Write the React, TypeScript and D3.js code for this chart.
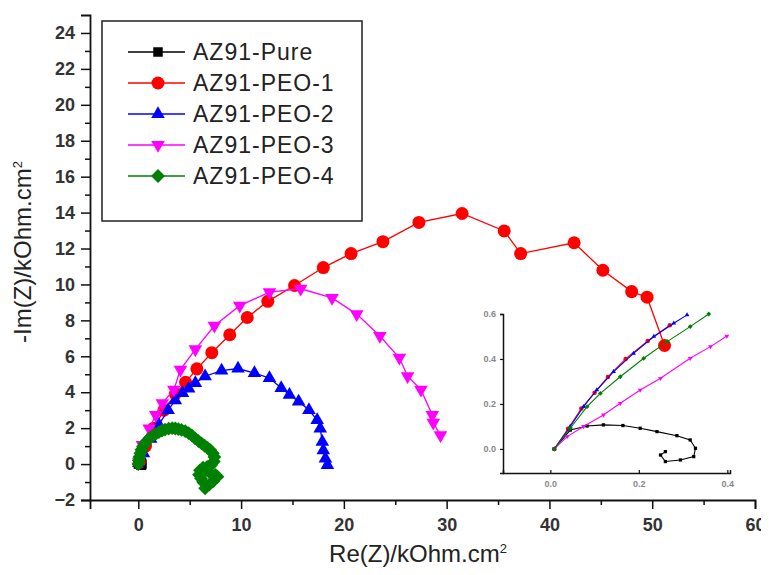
import React, { useEffect, useRef } from 'react';
import * as d3 from 'd3';

// series names, colours and marker shapes
const seriesNames = ['AZ91-Pure', 'AZ91-PEO-1', 'AZ91-PEO-2', 'AZ91-PEO-3', 'AZ91-PEO-4'];
const seriesColors = ['#000000', '#ff0000', '#0000ff', '#ff00ff', '#008000'];
const seriesShapes = ['square', 'circle', 'triangle', 'down', 'diamond'];

// main plot, Re(Z) / -Im(Z) in kOhm.cm2
const pureMain = [[0.009, 0], [0.045, 0.084], [0.083, 0.102], [0.12, 0.107], [0.164, 0.104], [0.203, 0.092],
  [0.241, 0.077], [0.286, 0.059], [0.316, 0.04], [0.328, 0.003], [0.324, -0.034], [0.294, -0.049],
  [0.26, -0.056], [0.249, -0.027], [0.26, -0.012]];
const peo1Main = [[0.1, 0.1], [0.7, 1.0], [1.5, 2.0], [2.5, 3.0], [3.6, 3.9], [4.6, 4.55], [5.7, 5.3],
  [7.15, 6.2], [8.9, 7.2], [10.6, 8.16], [12.6, 9.06], [15.2, 9.94], [18.0, 10.94], [20.7, 11.72],
  [23.8, 12.38], [27.3, 13.45], [31.5, 13.95], [35.6, 12.98], [37.2, 11.72], [42.4, 12.32],
  [45.2, 10.79], [48.0, 9.6], [49.5, 9.29], [51.2, 6.6]];
const peo2Main = [[0.05, 0.05], [0.5, 0.6], [1.2, 1.4], [2.0, 2.2], [2.9, 3.0], [3.6, 3.55], [4.3, 3.95],
  [4.9, 4.2], [5.55, 4.51], [6.5, 4.89], [8.1, 5.2], [9.7, 5.32], [11.3, 5.07], [12.76, 4.79],
  [13.9, 4.23], [14.7, 3.86], [15.6, 3.48], [16.6, 3.01], [17.4, 2.45], [17.7, 1.98], [17.9, 1.24],
  [18.0, 0.77], [18.2, 0.3], [18.4, -0.05]];
const peo3Main = [[0.05, 0.1], [0.4, 1.07], [1.06, 1.98], [1.7, 2.73], [2.34, 3.39], [3.46, 4.14],
  [4.1, 5.26], [5.55, 6.39], [7.4, 7.7], [9.87, 8.82], [12.76, 9.57], [15.8, 9.76], [18.85, 9.25],
  [21.25, 8.35], [23.5, 7.13], [25.4, 5.92], [26.2, 4.89], [27.5, 4.14], [28.6, 2.73], [28.7, 2.3],
  [29.4, 1.61]];
const peo4Main = [[0, 0], [0.05, 0.2], [0.1, 0.4], [0.2, 0.6], [0.3, 0.8], [0.45, 0.98], [0.65, 1.15],
  [0.85, 1.3], [1.1, 1.45], [1.4, 1.58], [1.7, 1.68], [2.0, 1.78], [2.3, 1.86], [2.6, 1.92], [2.95, 1.97],
  [3.3, 2.0], [3.6, 1.98], [3.9, 1.95], [4.2, 1.9], [4.56, 1.84], [4.9, 1.72], [5.2, 1.6], [5.5, 1.45],
  [5.85, 1.28], [6.15, 1.15], [6.45, 1.02], [6.75, 0.9], [7.0, 0.78], [7.25, 0.6], [7.4, 0.4],
  [7.35, 0.15], [7.1, -0.05], [6.7, -0.15], [6.3, -0.2], [6.0, -0.35], [5.9, -0.6], [6.3, -0.5],
  [6.9, -0.45], [7.5, -0.6], [7.7, -0.7], [7.3, -0.95], [6.9, -1.15], [6.5, -1.35], [6.3, -1.0],
  [6.1, -0.8]];

// inset, high frequency region
const pureInset = pureMain;
const peo1Inset = [[0.009, 0], [0.04, 0.09], [0.07, 0.18], [0.1, 0.25], [0.13, 0.32], [0.17, 0.4],
  [0.22, 0.48], [0.27, 0.55]];
const peo2Inset = [[0.009, 0], [0.045, 0.1], [0.075, 0.188], [0.105, 0.262], [0.143, 0.344], [0.188, 0.425],
  [0.234, 0.5], [0.279, 0.559], [0.309, 0.596]];
const peo3Inset = [[0.009, 0], [0.038, 0.055], [0.075, 0.1], [0.12, 0.151], [0.158, 0.203], [0.203, 0.262],
  [0.249, 0.314], [0.316, 0.403], [0.362, 0.455], [0.399, 0.502]];
const peo4Inset = [[0.009, 0], [0.045, 0.092], [0.083, 0.188], [0.113, 0.247], [0.158, 0.321], [0.211, 0.403],
  [0.264, 0.477], [0.316, 0.544], [0.358, 0.6]];

const mainData = [pureMain, peo1Main, peo2Main, peo3Main, peo4Main];
const insetData = [pureInset, peo1Inset, peo2Inset, peo3Inset, peo4Inset];

const xTicks = [0, 10, 20, 30, 40, 50, 60];
const yTicks = [-2, 0, 2, 4, 6, 8, 10, 12, 14, 16, 18, 20, 22, 24];
const insetXTicks = [0, 0.2, 0.4];
const insetYTicks = [0, 0.2, 0.4, 0.6];

const font = 'Arial, "Liberation Sans", sans-serif';

const symbolPath = (shape, scale) => {
  if (shape === 'circle') return d3.symbol(d3.symbolCircle, 133 * scale)();
  if (shape === 'square') return d3.symbol(d3.symbolSquare, 90 * scale)();
  if (shape === 'diamond') return d3.symbol(d3.symbolSquare, 95 * scale)();
  return d3.symbol(d3.symbolTriangle, 80 * scale)();
};
const symbolRotate = shape => (shape === 'down' ? 180 : shape === 'diamond' ? 45 : 0);

function Chart() {
  const ref = useRef(null);

  useEffect(() => {
    const svg = d3.select(ref.current);
    svg.selectAll('*').remove();

    const x = d3.scaleLinear().domain([-4.7, 60]).range([90, 755]);
    const y = d3.scaleLinear().domain([-2, 25]).range([500, 15]);

    // axes
    const minorX = d3.range(-5, 61, 5).filter(v => v % 10 !== 0 && v > -4.7);
    const minorY = d3.range(-1, 25, 2);

    const xAxis = svg.append('g').attr('transform', 'translate(0,500)')
      .call(d3.axisBottom(x).tickValues(xTicks).tickSize(9).tickPadding(6).tickFormat(d3.format('d')));
    svg.append('g').attr('transform', 'translate(0,500)')
      .call(d3.axisBottom(x).tickValues(minorX).tickSize(5).tickFormat(() => ''))
      .select('.domain').remove();
    const yAxis = svg.append('g').attr('transform', 'translate(90,0)')
      .call(d3.axisLeft(y).tickValues(yTicks).tickSize(9).tickPadding(6).tickFormat(d3.format('d')));
    svg.append('g').attr('transform', 'translate(90,0)')
      .call(d3.axisLeft(y).tickValues(minorY).tickSize(5).tickFormat(() => ''))
      .select('.domain').remove();

    svg.selectAll('.domain').attr('stroke', '#111').attr('stroke-width', 1.8);
    svg.selectAll('.tick line').attr('stroke', '#111').attr('stroke-width', 1.5);
    [xAxis, yAxis].forEach(a => a.selectAll('text')
      .attr('font-family', font)
      .attr('font-size', 18).attr('font-weight', 'bold').attr('fill', '#333'));
    xAxis.selectAll('text').attr('dy', '0.9em');

    // axis titles
    const xt = svg.append('text').attr('x', 418).attr('y', 562).attr('text-anchor', 'middle')
      .attr('font-family', font).attr('font-size', 24).attr('fill', '#222');
    xt.append('tspan').text('Re(Z)/kOhm.cm');
    xt.append('tspan').attr('dy', -9).attr('font-size', 13).text('2');

    const yt = svg.append('text').attr('transform', 'translate(31,252) rotate(-90)').attr('text-anchor', 'middle')
      .attr('font-family', font).attr('font-size', 24).attr('fill', '#222');
    yt.append('tspan').text('-Im(Z)/kOhm.cm');
    yt.append('tspan').attr('dy', -9).attr('font-size', 13).text('2');

    // main series
    const line = d3.line().x(d => x(d[0])).y(d => y(d[1]));
    mainData.forEach((data, i) => {
      const g = svg.append('g');
      g.append('path').attr('d', line(data)).attr('fill', 'none')
        .attr('stroke', seriesColors[i]).attr('stroke-width', 1.3);
      g.selectAll('path.m').data(data).enter().append('path').attr('class', 'm')
        .attr('d', symbolPath(seriesShapes[i], 1))
        .attr('transform', d => `translate(${x(d[0])},${y(d[1])}) rotate(${symbolRotate(seriesShapes[i])})`)
        .attr('fill', seriesColors[i]);
    });

    // inset
    const ix = d3.scaleLinear().domain([-0.107, 0.406]).range([503, 730]);
    const iy = d3.scaleLinear().domain([-0.107, 0.6]).range([473, 314]);
    const ixAxis = svg.append('g').attr('transform', 'translate(0,473)')
      .call(d3.axisBottom(ix).tickValues(insetXTicks).tickSize(-3).tickPadding(4).tickFormat(d3.format('.1f')));
    const iyAxis = svg.append('g').attr('transform', 'translate(503,0)')
      .call(d3.axisLeft(iy).tickValues(insetYTicks).tickSize(3).tickPadding(4).tickFormat(d3.format('.1f')));
    [ixAxis, iyAxis].forEach(a => {
      a.select('.domain').attr('stroke', '#111').attr('stroke-width', 1.5);
      a.selectAll('.tick line').attr('stroke', '#111').attr('stroke-width', 1.2);
      a.selectAll('text').attr('font-family', font)
        .attr('font-size', 9).attr('font-weight', 'bold').attr('fill', '#888');
    });
    ixAxis.selectAll('text').attr('y', 8);

    const iline = d3.line().x(d => ix(d[0])).y(d => iy(d[1]));
    insetData.forEach((data, i) => {
      const g = svg.append('g');
      g.append('path').attr('d', iline(data)).attr('fill', 'none')
        .attr('stroke', seriesColors[i]).attr('stroke-width', 1.1);
      g.selectAll('path.m').data(data).enter().append('path').attr('class', 'm')
        .attr('d', symbolPath(seriesShapes[i], 0.12))
        .attr('transform', d => `translate(${ix(d[0])},${iy(d[1])}) rotate(${symbolRotate(seriesShapes[i])})`)
        .attr('fill', seriesColors[i]);
    });

    // legend
    const legend = svg.append('g');
    legend.append('rect').attr('x', 102).attr('y', 21).attr('width', 260).attr('height', 200)
      .attr('fill', 'white').attr('stroke', '#222').attr('stroke-width', 1.5);
    seriesNames.forEach((name, i) => {
      const ly = 52 + i * 31;
      legend.append('line').attr('x1', 128).attr('x2', 185).attr('y1', ly).attr('y2', ly)
        .attr('stroke', seriesColors[i]).attr('stroke-width', 1.3);
      legend.append('path').attr('d', symbolPath(seriesShapes[i], 1))
        .attr('transform', `translate(158,${ly}) rotate(${symbolRotate(seriesShapes[i])})`)
        .attr('fill', seriesColors[i]);
      legend.append('text').attr('x', 193).attr('y', ly + 8).text(name)
        .attr('font-family', font).attr('font-size', 23)
        .attr('letter-spacing', 1).attr('fill', '#222');
    });
  }, []);

  return <svg ref={ref} width={769} height={575} style={{ display: 'block', background: 'white' }} />;
}

export default function App() {
  return <div style={{ margin: -8 }}><Chart /></div>;
}
